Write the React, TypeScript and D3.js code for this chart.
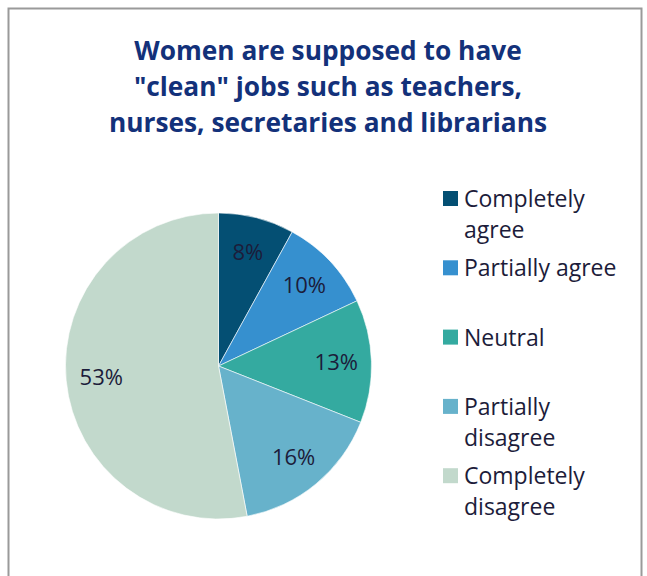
import React from "react";
import * as d3 from "d3";

const categories = ["Completely agree", "Partially agree", "Neutral", "Partially disagree", "Completely disagree"];
const values = [8, 10, 13, 16, 53];
const colors = ["#044F73", "#3690CF", "#34AAA0", "#67B2CB", "#C2D9CC"];
const legendLines = [["Completely", "agree"], ["Partially agree"], ["Neutral"], ["Partially", "disagree"], ["Completely", "disagree"]];
const titleLines = ["Women are supposed to have", "\"clean\" jobs such as teachers,", "nurses, secretaries and librarians"];

export default function App() {
  const W = 647, H = 576;
  const cx = 218.5, cy = 366, r = 153;
  const pie = d3.pie<number>().sort(null).value((d) => d);
  const arcs = pie(values);
  const arc = d3.arc<d3.PieArcDatum<number>>().innerRadius(0).outerRadius(r);
  const labelArc = d3.arc<d3.PieArcDatum<number>>().innerRadius(r * 0.77).outerRadius(r * 0.77);
  const textColor = "#1c1c3a";
  const font = "'Open Sans', sans-serif";
  return (
    <svg width={W} height={H} style={{ position: "absolute", left: 0, top: 0 }}>
      <rect x={0} y={0} width={W} height={H} fill="#fff" />
      <rect x={8.5} y={8.5} width={633} height={600} fill="#fff" stroke="#9a9a9a" strokeWidth={2} />
      {titleLines.map((t, i) => (
        <text key={i} x={328} y={59.5 + i * 36.2} textAnchor="middle" fontFamily={font} fontWeight="bold" fontSize={26.3} fill="#13317A">
          {t}
        </text>
      ))}
      <g transform={`translate(${cx},${cy})`}>
        {arcs.map((a, i) => (
          <path key={i} d={arc(a) || ""} fill={colors[i]} stroke="#ffffff" strokeWidth={0.6} />
        ))}
        {arcs.map((a, i) => {
          const [x, y] = labelArc.centroid(a);
          return (
            <text key={i} x={x} y={y} dy="0.36em" textAnchor="middle" fontFamily={font} fontSize={22} fill={textColor}>
              {values[i]}%
            </text>
          );
        })}
      </g>
      {categories.map((c, i) => {
        const top = 191 + i * 69.3;
        return (
          <g key={c}>
            <rect x={443} y={top} width={15} height={15} fill={colors[i]} />
            {legendLines[i].map((l, j) => (
              <text key={j} x={464} y={top + 16 + j * 31} fontFamily={font} fontSize={23} fill={textColor}>
                {l}
              </text>
            ))}
          </g>
        );
      })}
    </svg>
  );
}
